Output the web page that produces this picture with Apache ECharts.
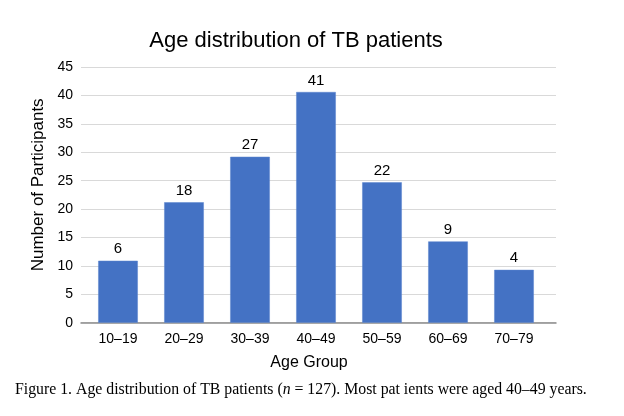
<!DOCTYPE html>
<html>
<head>
<meta charset="utf-8">
<script src="https://cdn.jsdelivr.net/npm/echarts@6/dist/echarts.min.js"></script>
<style>
html,body{margin:0;padding:0;background:#fff;}
#c{width:624px;height:416px;}
</style>
</head>
<body>
<div id="c"></div>
<script>
var categories = ['10–19','20–29','30–39','40–49','50–59','60–69','70–79'];
var barValues = [10.9, 21.2, 29.2, 40.6, 24.7, 14.3, 9.3];
var labelValues = [6, 18, 27, 41, 22, 9, 4];
var yTicks = {min: 0, max: 45, interval: 5};

var chart = echarts.init(document.getElementById('c'), null, {renderer: 'canvas'});
chart.setOption({
  animation: false,
  backgroundColor: '#ffffff',
  title: {
    text: 'Age distribution of TB patients',
    left: 291, top: 25, textAlign: 'center',
    textStyle: {fontFamily: 'Liberation Sans', fontSize: 22, fontWeight: 'normal', color: '#000'}
  },
  graphic: [{
    type: 'text', left: 15, top: 382,
    style: {
      text: '{a|Figure 1. Age distribution of TB patients (}{i|n}{a| = 127). Most pat ients were aged 40–49 years.}',
      rich: {
        a: {fontFamily: 'Liberation Serif', fontSize: 15.8, fill: '#000'},
        i: {fontFamily: 'Liberation Serif', fontSize: 15.8, fontStyle: 'italic', fill: '#000'}
      }
    }
  }],
  grid: [
    {left: 85, right: 77, top: 67, bottom: 93.3, containLabel: false},
    {left: 81, right: 68, top: 67, bottom: 93.3, containLabel: false}
  ],
  xAxis: [{
    gridIndex: 0, type: 'category', data: categories,
    name: 'Age Group', nameLocation: 'middle', nameGap: 32,
    nameTextStyle: {fontFamily: 'Liberation Sans', fontSize: 16, color: '#000', padding: [0, 14, 0, 0]},
    axisLine: {show: false},
    axisTick: {show: false},
    axisLabel: {fontFamily: 'Liberation Sans', fontSize: 14, color: '#000', margin: 9}
  }, {
    gridIndex: 1, type: 'category', data: categories,
    axisLine: {lineStyle: {color: '#8c8c8c', width: 1.5}},
    axisTick: {show: false}, axisLabel: {show: false}
  }],
  yAxis: [{
    gridIndex: 0, type: 'value', min: yTicks.min, max: yTicks.max, interval: yTicks.interval,
    show: false, splitLine: {show: false}
  }, {
    gridIndex: 1, type: 'value', min: yTicks.min, max: yTicks.max, interval: yTicks.interval,
    name: 'Number of Participants', nameLocation: 'middle', nameGap: 33, nameRotate: 90,
    nameTextStyle: {fontFamily: 'Liberation Sans', fontSize: 17, color: '#000', padding: [0, 0, 0, 20]},
    axisLine: {show: false}, axisTick: {show: false},
    axisLabel: {fontFamily: 'Liberation Sans', fontSize: 14, color: '#000', margin: 8},
    splitLine: {lineStyle: {color: '#d9d9d9', width: 1}}
  }],
  series: [{
    type: 'bar', xAxisIndex: 0, yAxisIndex: 0, data: barValues, barWidth: '60%',
    itemStyle: {color: '#4472C4', borderColor: '#5b84cf', borderWidth: 0.5},
    label: {
      show: true, position: 'top', distance: 4,
      fontFamily: 'Liberation Sans', fontSize: 15, color: '#000',
      formatter: function (p) { return labelValues[p.dataIndex]; }
    }
  }]
});
</script>
</body>
</html>
